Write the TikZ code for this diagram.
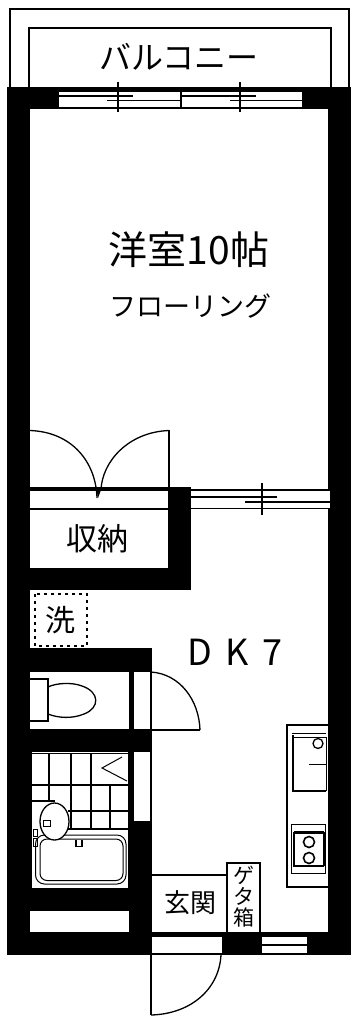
\documentclass[tikz,border=0pt]{standalone}
\usepackage{fontspec}
\setmainfont{Noto Sans CJK JP}
\tikzset{
  wall/.style={fill=black,draw=none},
  room/.style={fill=white,draw=none},
  thin/.style={draw=black,line width=1.3pt},
  hair/.style={draw=black,line width=1pt},
  thick2/.style={draw=black,line width=2.4pt},
  lbl/.style={inner sep=0pt,text=black},
}
\begin{document}
\begin{tikzpicture}[x=1pt,y=-1pt]
\useasboundingbox (0,0) rectangle (355,1017);
\fill[white] (0,0) rectangle (355,1017);
% balcony
\draw[thin] (10,88) -- (10,9) -- (349,9) -- (349,88);
\draw[thin] (29,88) -- (29,28) -- (331,28) -- (331,88);
% walls
\fill[wall] (7,87) rectangle (351,955);
% rooms
\fill[room] (30,109) rectangle (328,487);
\fill[room] (191,487) rectangle (328,932);
\fill[room] (30,510) rectangle (168,568);
\fill[room] (30,490) rectangle (168,508);
\fill[room] (30,590) rectangle (328,648);
\fill[room] (152,590) rectangle (328,932);
\fill[room] (30,672) rectangle (129,729);
\fill[room] (134,672) rectangle (150,729);
\fill[room] (32,752) rectangle (128,888);
\fill[room] (134,752) rectangle (150,821);
\fill[room] (30,911) rectangle (129,932);
% top window
\fill[room] (59,90) rectangle (302,108);
\draw[thin] (59,91) -- (302,91);
\draw[thin] (59,107.5) -- (302,107.5);
\draw[thin] (59,96) -- (133,96);
\draw[thin] (182,96) -- (256,96);
\draw[thin] (107,100.5) -- (181,100.5);
\draw[thin] (230,100.5) -- (302,100.5);
\draw[thin] (181,91) -- (181,108);
\draw[thin] (118,82) -- (118,112);
\draw[thin] (240,82) -- (240,112);
% closet doors
\draw[thin] (30,430.5) .. controls (72,432) and (96,462) .. (97,498);
\draw[thin] (169,430.5) .. controls (128,432) and (102,462) .. (101,490);
\draw[thin] (169,430) -- (169,488);
\draw[line width=2.6pt] (30,490) -- (168,490);
\fill[black] (96.5,490) -- (101,490) -- (98,498) -- cycle;
\draw[thin] (30,508.5) -- (168,508.5);
% sliding door DK
\fill[room] (191,490) rectangle (330,508);
\draw[line width=2pt] (191,489.5) -- (330,489.5);
\draw[thin] (191,497) -- (277,497);
\draw[thin] (245,502) -- (330,502);
\draw[thin] (191,508.5) -- (330,508.5);
\draw[thin] (262,483) -- (262,515);
% washer
\draw[thin,dash pattern=on 3pt off 4pt] (35,594) rectangle (87,646);
% doors near toilet
\draw[thin] (151,672) -- (151,729);
\draw[thin] (151,752) -- (151,821);
\draw[thin] (151,730) -- (200,730);
\draw[thin] (151,672) .. controls (180,674) and (199,700) .. (200,730);
% toilet
\draw[thin] (30,679) -- (48,679) -- (48,721) -- (30,721);
\draw[thin] (48,687) .. controls (56,683) and (72,682) .. (82,686) .. controls (100,692) and (100,708) .. (84,714) .. controls (72,719) and (58,718) .. (48,714);
% bath tiles
\draw[thin] (30,753.5) -- (128,753.5);
\draw[thin] (49,754) -- (49,802);
\draw[thin] (71,754) -- (71,828);
\draw[thin] (91,754) -- (91,828);
\draw[thin] (110,785) -- (110,828);
\draw[thin] (32,785) -- (128,785);
\draw[thin] (32,801) -- (55,801);
\draw[thin] (68,811) -- (128,811);
\draw[line width=2pt] (66,828.5) -- (128,828.5);
\draw[hair] (122,757) -- (102,768) -- (127,781);
% bath
\draw[hair,rounded corners=9pt] (35.5,835) rectangle (126,884);
\draw[hair,rounded corners=7pt] (40,839) rectangle (123,880.5);
\draw[line width=1.8pt] (76,840) -- (76,846.5) -- (82,846.5) -- (82,840);
% washbasin
\fill[white] (54.5,821.5) ellipse (14.5 and 18.5);
\draw[thin] (54.5,821.5) ellipse (14.5 and 18.5);
\draw[hair] (43,820) rectangle (50,826);
% tap blobs
\draw[hair] (33,829) rectangle (37,836);
\draw[hair] (33,838) rectangle (37,846);
% kitchen
\draw[thin] (328,725) -- (287,725) -- (287,887) -- (328,887);
\draw[hair] (292,733) -- (326,733);
\draw[hair] (293,737) -- (326,737);
\draw[thick2] (293,735) -- (293,791) -- (326,791);
\draw[hair] (326,737) -- (326,791);
\draw[hair] (309,764.5) -- (326,764.5);
\draw[thin] (318,743.5) circle (5);
\draw[hair] (291,824) rectangle (325,873);
\draw[thick2] (294,832) -- (294,866) -- (324,866);
\draw[thick2] (294,832.5) -- (324,832.5);
\draw[thin] (324,832) -- (324,866);
\draw[line width=1.6pt] (309,842) circle (5.5);
\draw[line width=1.6pt] (309,858) circle (5.5);
% entrance
\draw[thin] (152,875) -- (227,875);
\draw[thin] (227,932) -- (227,863) -- (260,863) -- (260,932);
\fill[wall] (152,932) rectangle (328,937);
% bottom openings
\fill[room] (152,937) rectangle (222,953);
\fill[room] (262,937) rectangle (307,953);
\draw[thin] (152,954.5) -- (222,954.5);
\draw[thin] (262,945) -- (307,945);
\draw[thin] (262,954) -- (307,954);
% entry door
\draw[thin] (151,932) -- (151,1015);
\draw[thin] (221,955) .. controls (219,990) and (190,1014) .. (151,1015);
% labels
\node[lbl,font=\fontsize{32}{32}\selectfont] (balc) at (179,57) {バルコニー};
\node[lbl,font=\fontsize{39}{39}\selectfont] (room1) at (189,250) {洋室10帖};
\node[lbl,font=\fontsize{27}{27}\selectfont] (floor) at (190,306) {フローリング};
\node[lbl,font=\fontsize{31}{31}\selectfont] (closet) at (97,539) {収納};
\node[lbl,font=\fontsize{30}{30}\selectfont] (wash) at (60,620) {洗};
\node[lbl,font=\fontsize{36}{36}\selectfont] (dk) at (235,652) {D\hspace{14pt}K\hspace{14pt}7};
\node[lbl,font=\fontsize{26}{26}\selectfont] (ent) at (190,903) {玄関};
\node[lbl,font=\fontsize{21}{21}\selectfont,align=center] (shoe) at (243.5,897) {ゲ\\タ\\箱};
\end{tikzpicture}
\end{document}
